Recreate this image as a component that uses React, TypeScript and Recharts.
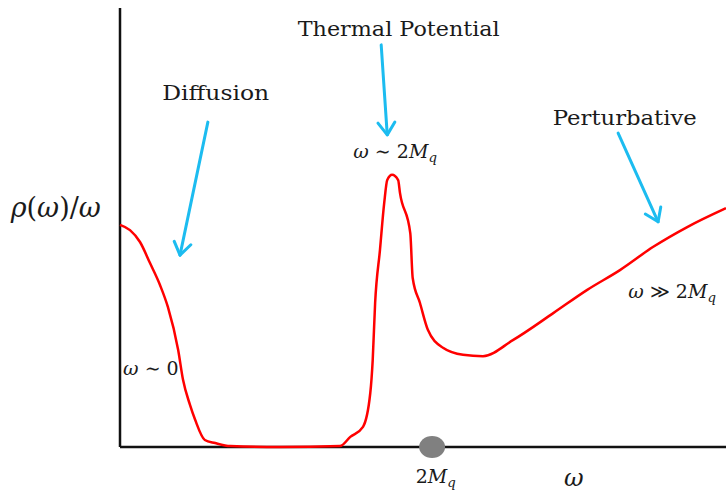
import React from "react";
import {
  LineChart,
  Line,
  XAxis,
  YAxis,
  ReferenceLine,
  ReferenceDot,
} from "recharts";

/* ---------------- Spectral function sketch ---------------- */

// omega (x) and rho(omega)/omega (y)
const OMEGA = [
  0, 1.65, 3.3, 4.95, 6.6, 7.9, 9.6, 10.4, 11.55, 12.4, 14.0, 15.7, 18.2,
  26.4, 36.3, 38.0, 40.1, 41.3, 41.7, 42.1, 42.9, 43.6, 44.1, 44.9, 45.9,
  46.2, 47.9, 48.3, 49.5, 50.8, 53.3, 56.6, 59.9, 64.9, 71.5, 77.1, 82.5,
  88.0, 93.6, 100,
];
const RHO = [
  50.6, 49.4, 46.7, 41.9, 36.9, 31.9, 22.1, 15.3, 9.6, 6.2, 1.6, 0.9, 0.2,
  0, 0.2, 2.3, 4.6, 12.3, 19.8, 32.8, 44.9, 55.6, 60.8, 62.0, 60.8, 57.9,
  48.7, 38.5, 32.8, 26.7, 22.6, 21.0, 20.7, 24.4, 30.5, 35.8, 40.3, 45.6,
  50.1, 54.4,
];

// threshold marker on the omega axis
const THRESHOLD = 51.5;

// arrows: [x1, y1, x2, y2] in chart units
const ARROWS = [
  [14.5, 74.0, 9.9, 43.7],
  [43.1, 91.6, 44.1, 71.1],
  [82.2, 71.5, 88.8, 51.3],
];

type Part = { t: string; i?: boolean; sub?: boolean };
const W: Part = { t: "ω", i: true };
const M: Part = { t: "M", i: true };
const Q: Part = { t: "q", i: true, sub: true };

const LABELS: { x: number; y: number; size: number; parts: Part[]; len?: number }[] = [
  { x: 46.0, y: 93.6, size: 20, parts: [{ t: "Thermal Potential" }], len: 202 },
  { x: 15.8, y: 79.0, size: 20, parts: [{ t: "Diffusion" }], len: 107 },
  { x: 83.3, y: 73.3, size: 20, parts: [{ t: "Perturbative" }], len: 144 },
  { x: 45.4, y: 65.8, size: 19, parts: [W, { t: " ∼ 2" }, M, Q] },
  { x: 91.1, y: 33.9, size: 19, parts: [W, { t: " ≫ 2" }, M, Q] },
  { x: 5.1, y: 16.4, size: 19, parts: [W, { t: " ∼ 0" }] },
  { x: -10.6, y: 52.4, size: 27, parts: [{ t: "ρ", i: true }, { t: "(" }, W, { t: ")/" }, W] },
  { x: 52.1, y: -8.2, size: 19, parts: [{ t: "2" }, M, Q] },
  { x: 74.9, y: -8.8, size: 24, parts: [W] },
];

const chartData = OMEGA.map((x, k) => ({ x, y: RHO[k] }));

const FONT = "'DejaVu Serif', 'Liberation Serif', serif";
const BLUE = "#1cbcf0";

function Arrow(props: any) {
  const { x1, y1, x2, y2 } = props;
  const a = Math.atan2(y1 - y2, x1 - x2);
  const len = 15;
  const s = 0.6;
  return (
    <g stroke={BLUE} strokeWidth={3} strokeLinecap="round" fill="none">
      <line x1={x1} y1={y1} x2={x2} y2={y2} />
      <polyline
        points={`${x2 + len * Math.cos(a - s)},${y2 + len * Math.sin(a - s)} ${x2},${y2} ${
          x2 + len * Math.cos(a + s)
        },${y2 + len * Math.sin(a + s)}`}
        strokeLinejoin="round"
      />
    </g>
  );
}

function makeLabel(l: (typeof LABELS)[number]) {
  return (props: any) => (
    <text
      x={props.cx}
      y={props.cy}
      textAnchor="middle"
      fontFamily={FONT}
      fontSize={l.size}
      fill="#1a1a1a"
      textLength={l.len}
      lengthAdjust={l.len ? "spacingAndGlyphs" : undefined}
    >
      {l.parts.map((p, k) => (
        <tspan
          key={k}
          fontStyle={p.i ? "italic" : "normal"}
          fontSize={p.sub ? l.size * 0.7 : l.size}
          dy={p.sub ? l.size * 0.2 : 0}
        >
          {p.t}
        </tspan>
      ))}
    </text>
  );
}

function Blob(props: any) {
  return <ellipse cx={props.cx} cy={props.cy} rx={13} ry={11} fill="#808080" />;
}

export default function App() {
  return (
    <div style={{ position: "absolute", left: 0, top: 0, background: "#fff" }}>
      <LineChart
        width={726}
        height={492}
        data={chartData}
        margin={{ top: 8, right: 0, bottom: 45, left: 120 }}
      >
        <XAxis type="number" dataKey="x" domain={[0, 100]} hide />
        <YAxis type="number" domain={[0, 100]} hide />

        {/* Axes */}
        <ReferenceLine x={0} stroke="#111" strokeWidth={2.5} />
        <ReferenceLine y={0} stroke="#111" strokeWidth={2.5} />

        <ReferenceDot x={THRESHOLD} y={0} ifOverflow="visible" shape={Blob} />

        {/* Curve */}
        <Line
          type="monotone"
          dataKey="y"
          stroke="#ff0000"
          strokeWidth={2.5}
          dot={false}
          isAnimationActive={false}
        />

        {/* Arrows */}
        {ARROWS.map((a, k) => (
          <ReferenceLine
            key={`a${k}`}
            segment={[
              { x: a[0], y: a[1] },
              { x: a[2], y: a[3] },
            ]}
            ifOverflow="visible"
            shape={Arrow}
          />
        ))}

        {/* Labels */}
        {LABELS.map((l, k) => (
          <ReferenceDot
            key={`l${k}`}
            x={l.x}
            y={l.y}
            r={0}
            ifOverflow="visible"
            shape={makeLabel(l)}
          />
        ))}
      </LineChart>
    </div>
  );
}
